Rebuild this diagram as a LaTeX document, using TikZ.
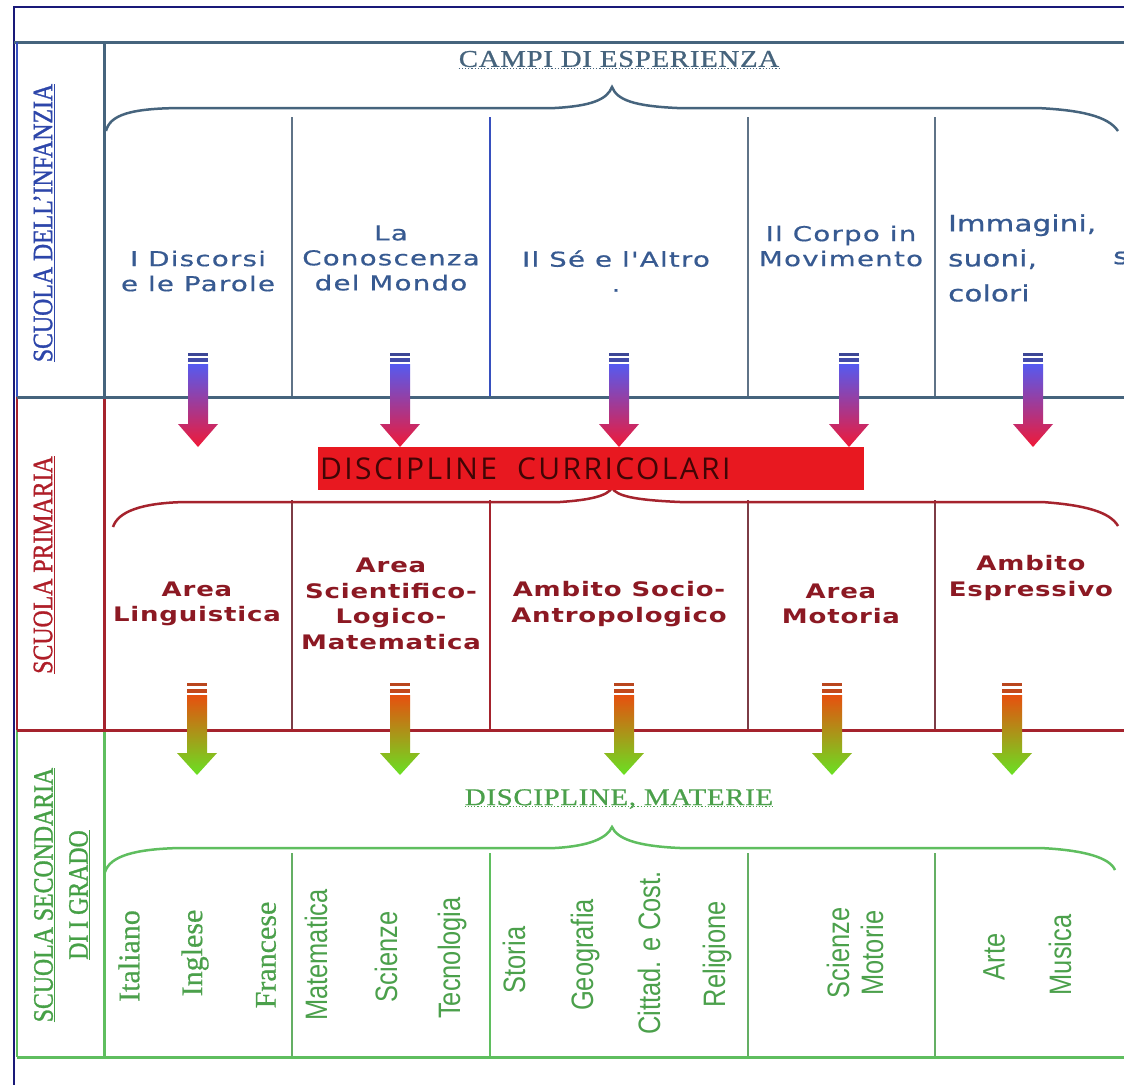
\documentclass[tikz,border=0pt]{standalone}
\usepackage{fontspec}
\setmainfont{DejaVu Sans}
\newfontfamily\bluefont[FakeStretch=1.35,LetterSpace=6,FakeBold=0.6]{DejaVu Sans}
\newfontfamily\redfont[FakeStretch=1.3,LetterSpace=4]{DejaVu Sans}
\newfontfamily\imgfont[FakeStretch=1.3,LetterSpace=1,FakeBold=0.8]{DejaVu Sans}
\newfontfamily\headfont[FakeStretch=1.2,LetterSpace=3,FakeBold=0.8]{Liberation Serif}
\newfontfamily\labfont[FakeStretch=0.85,FakeBold=1]{Liberation Serif}
\newfontfamily\subjseriffont[FakeBold=0.5]{Liberation Serif}
\newfontfamily\narrowsans[FakeStretch=0.82]{Liberation Sans}
\newfontfamily\boxfont[LetterSpace=8]{Open Sans}
\definecolor{navy}{RGB}{25,25,120}
\definecolor{bgray}{RGB}{70,100,125}
\definecolor{bthin}{RGB}{95,115,135}
\definecolor{bline}{RGB}{55,80,190}
\definecolor{btext}{RGB}{55,90,145}
\definecolor{rline}{RGB}{165,35,45}
\definecolor{rthin}{RGB}{125,60,70}
\definecolor{rtext}{RGB}{140,25,35}
\definecolor{gline}{RGB}{95,190,95}
\definecolor{gthin}{RGB}{100,175,100}
\definecolor{gtext}{RGB}{75,160,75}
\definecolor{boxred}{RGB}{232,24,32}
\definecolor{boxtext}{RGB}{65,5,5}
\definecolor{arrblue}{RGB}{85,90,240}
\definecolor{arrmag}{RGB}{190,55,170}
\definecolor{arrred}{RGB}{240,25,55}
\definecolor{stripeb}{RGB}{60,70,150}
\definecolor{arrorange}{RGB}{230,80,15}
\definecolor{arryellow}{RGB}{205,185,10}
\definecolor{arrgreen}{RGB}{105,225,35}
\definecolor{striper}{RGB}{185,70,30}
\definecolor{labblue}{RGB}{45,70,170}
\definecolor{labred}{RGB}{175,30,40}
\definecolor{labgreen}{RGB}{70,160,70}
\tikzset{
  bluelabel/.style={text=btext, font=\bluefont\fontsize{20.5}{25}\selectfont, align=center, inner sep=0pt},
  redlabel/.style={text=rtext, font=\redfont\bfseries\fontsize{20}{25.5}\selectfont, align=center, inner sep=0pt},
  subj/.style={text=gtext, rotate=90, font=\narrowsans\fontsize{31}{34}\selectfont, inner sep=0pt, align=center},
  subjserif/.style={subj, font=\subjseriffont\fontsize{30}{34}\selectfont},
  headtext/.style={font=\headfont\fontsize{24}{28}\selectfont, inner sep=0pt},
  schoollab/.style={rotate=90, font=\labfont\fontsize{28}{35}\selectfont, inner sep=0pt, align=center},
  thickline/.style={line width=3pt},
  braceline/.style={line width=2.5pt},
  divthin/.style={line width=1.5pt},
  divthick/.style={line width=2.5pt},
}
\begin{document}
\begin{tikzpicture}[x=1pt,y=-1pt]
\useasboundingbox (0,0) rectangle (1124,1084);
\fill[white] (0,0) rectangle (1124,1084);

% outer frame
\draw[navy, line width=2pt] (14,1090) -- (14,7) -- (1130,7);

% ---------- top section ----------
\draw[bgray, thickline] (14,42) -- (1130,42);
\draw[bgray, thickline] (104,42) -- (104,397);
\draw[bline, line width=2.5pt] (17,42) -- (17,397);
\foreach \dx in {292,748,935} \draw[bthin, divthin] (\dx,117) -- (\dx,397);
\draw[bline, divthick] (490,117) -- (490,397);
\draw[bgray, braceline] (106,131) .. controls (110,115) and (130,108) .. (185,108) -- (555,108)
  .. controls (590,106) and (607,100) .. (612,87) .. controls (617,100) and (634,106) .. (677,108)
  -- (1037,108) .. controls (1080,110) and (1108,116) .. (1118,131);

% ---------- red section ----------
\draw[rline, line width=2.5pt] (17,397) -- (17,730);
\draw[rline, thickline] (104,397) -- (104,730);
\foreach \dx in {292,748,935} \draw[rthin, divthin] (\dx,500) -- (\dx,730);
\draw[rline, divthick] (490,500) -- (490,730);
\draw[rline, braceline] (113,527) .. controls (118,512) and (140,503) .. (185,502) -- (560,502)
  .. controls (590,500) and (607,496) .. (612,488) .. controls (617,496) and (634,500) .. (680,502)
  -- (1042,502) .. controls (1085,505) and (1110,512) .. (1118,526);
\draw[bgray, thickline] (17,397) -- (1130,397);

% ---------- green section ----------
\draw[gline, line width=2.5pt] (17,730) -- (17,1057);
\draw[gline, thickline] (104,730) -- (104,1057);
\foreach \dx in {292,748,935} \draw[gthin, divthin] (\dx,853) -- (\dx,1057);
\draw[gline, divthick] (490,853) -- (490,1057);
\draw[gline, thickline] (17,1057) -- (1130,1057);
\draw[gline, braceline] (105,872) .. controls (110,856) and (135,849) .. (180,848) -- (555,848)
  .. controls (590,846) and (607,838) .. (612,827) .. controls (617,838) and (634,846) .. (680,848)
  -- (1040,848) .. controls (1085,850) and (1110,858) .. (1115,870);
\draw[rline, thickline] (17,730) -- (1130,730);

% ---------- arrows blue -> red ----------
\foreach \ax in {198,400,619,849,1033} {
  \fill[stripeb] (\ax-10,353) rectangle (\ax+10,356);
  \fill[stripeb!80!arrblue] (\ax-10,358) rectangle (\ax+10,362);
  \shade[top color=arrblue, middle color=arrmag, bottom color=arrred]
    (\ax-10,364) -- (\ax+10,364) -- (\ax+10,424) -- (\ax+20,424) -- (\ax,447)
    -- (\ax-20,424) -- (\ax-10,424) -- cycle;
}

% ---------- red box ----------
\node[fill=boxred, minimum width=546pt, minimum height=43pt, anchor=north west, inner sep=0pt,
      text=boxtext, font=\boxfont\fontsize{30}{32}\selectfont, align=left, text width=542pt]
      (disc) at (318,447) {DISCIPLINE\ \ CURRICOLARI};

% ---------- arrows red -> green ----------
\foreach \ax in {197,400,624,832,1012} {
  \fill[striper] (\ax-10,683) rectangle (\ax+10,686);
  \fill[striper!80!arrorange] (\ax-10,689) rectangle (\ax+10,693);
  \shade[top color=arrorange, middle color=arryellow, bottom color=arrgreen]
    (\ax-10,695) -- (\ax+10,695) -- (\ax+10,753) -- (\ax+20,753) -- (\ax,775)
    -- (\ax-20,753) -- (\ax-10,753) -- cycle;
}

% ---------- headers ----------
\node[headtext, text=bgray] (campi) at (619,59) {CAMPI DI ESPERIENZA};
\draw[bgray, dotted, line width=1.2pt] ([yshift=-1.5pt]campi.base west) -- ([yshift=-1.5pt]campi.base east);
\node[headtext, text=gtext] (matr) at (619,799) {DISCIPLINE, MATERIE};
\draw[gtext, dotted, line width=1.2pt] ([yshift=-1.5pt]matr.base west) -- ([yshift=-1.5pt]matr.base east);

% ---------- school labels ----------
\node[schoollab, text=labblue] (sinf) at (44,223) {\underline{SCUOLA DELL’INFANZIA}};
\node[schoollab, text=labred] (sprim) at (44,565) {\underline{SCUOLA PRIMARIA}};
\node[schoollab, text=labgreen] (ssec) at (62,895) {\underline{SCUOLA SECONDARIA}\\\underline{DI I GRADO}};

% ---------- campi di esperienza ----------
\node[bluelabel] (c1) at (198,271) {I Discorsi\\e le Parole};
\node[bluelabel] (c2) at (391,258) {La\\Conoscenza\\del Mondo};
\node[bluelabel] (c3) at (616,271) {Il Sé e l'Altro\\.};
\node[bluelabel] (c4) at (841,246) {Il Corpo in\\Movimento};
\node[text=btext, font=\imgfont\fontsize{22.5}{35}\selectfont, align=left, inner sep=0pt, anchor=west]
  (c5) at (948,258) {Immagini,\\suoni,\\colori};
\node[text=btext, font=\imgfont\fontsize{22.5}{35}\selectfont, inner sep=0pt, anchor=west]
  (c6) at (1113,258) {s};

% ---------- discipline curricolari ----------
\node[redlabel] (r1) at (197,604) {Area\\Linguistica};
\node[redlabel] (r2) at (391,604) {Area\\Scientifico-\\Logico-\\Matematica};
\node[redlabel] (r3) at (619,604) {Ambito Socio-\\Antropologico};
\node[redlabel] (r4) at (841,604) {Area\\Motoria};
\node[redlabel] (r5) at (1031,578) {Ambito\\Espressivo};

% ---------- materie ----------
\node[subjserif] (m1) at (129,956) {Italiano};
\node[subjserif] (m2) at (195,953) {Inglese};
\node[subjserif] (m3) at (266,955) {Francese};
\node[subj] (m4) at (316,955) {Matematica};
\node[subj] (m5) at (386,957) {Scienze};
\node[subj] (m6) at (452,958) {Tecnologia};
\node[subj] (m7) at (514,960) {Storia};
\node[subj] (m8) at (585,955) {Geografia};
\node[subj] (m9) at (649,953) {Cittad. e Cost.};
\node[subj] (m10) at (717,954) {Religione};
\node[subj] (m11) at (855,953) {Scienze\\Motorie};
\node[subj] (m12) at (994,957) {Arte};
\node[subj] (m13) at (1060,955) {Musica};
\end{tikzpicture}
\end{document}
